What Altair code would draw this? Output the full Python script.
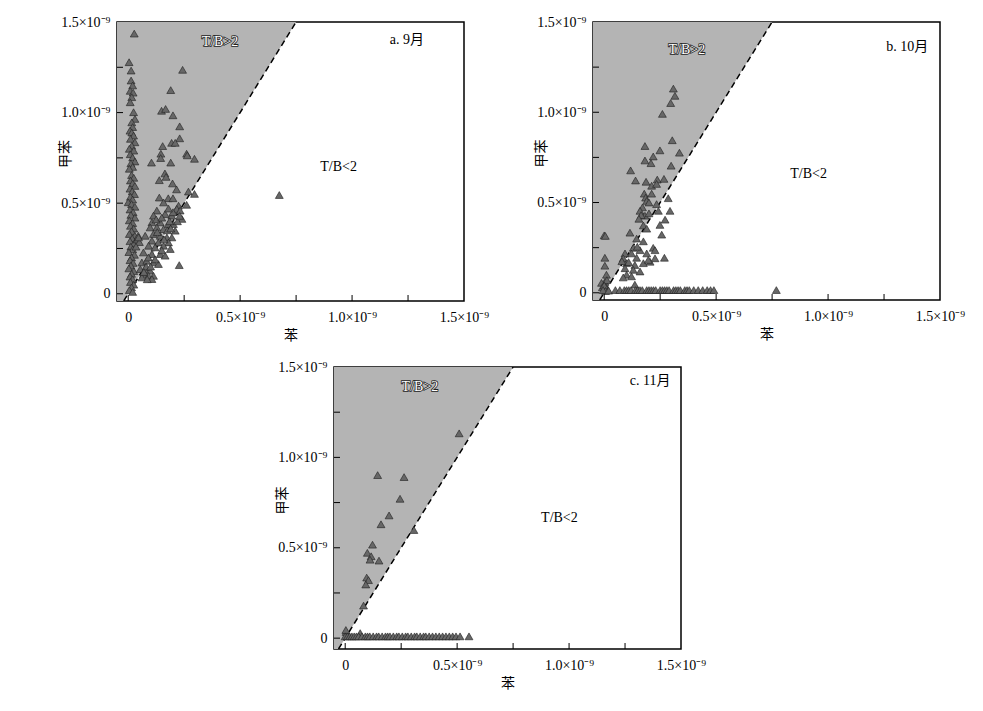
import altair as alt
import pandas as pd

# ---------------- data (units of 1e-9) ----------------
# Panel a (September)
a_x = [0.004, 0.013, 0.013, 0.020, 0.009, 0.022, 0.016, 0.009, 0.024, 0.030, 0.016, 0.020, 0.008, 0.016, 0.024,
       0.010, 0.030, 0.016, 0.005, 0.025, 0.009, 0.020, 0.030, 0.012, 0.020, 0.005, 0.015, 0.025, 0.010, 0.020,
       0.030, 0.008, 0.018, 0.028, 0.010, 0.020, 0.000, 0.015, 0.030, 0.008, 0.022, 0.012, 0.030, 0.005, 0.020,
       0.010, 0.025, 0.015, 0.005, 0.030, 0.018, 0.008, 0.025, 0.012, 0.020, 0.003, 0.028, 0.015, 0.008, 0.022,
       0.012, 0.003, 0.025, 0.015, 0.008, 0.020, 0.010, 0.025, 0.015, 0.005, 0.020,
       0.040, 0.050, 0.045, 0.035, 0.046,
       0.027, 0.243, 0.190, 0.149, 0.167, 0.200, 0.230, 0.230, 0.194, 0.210, 0.154, 0.146, 0.145, 0.261, 0.264,
       0.296, 0.104, 0.190, 0.164, 0.169, 0.139, 0.198, 0.216, 0.269, 0.296, 0.139, 0.179, 0.200, 0.261, 0.675,
       0.158, 0.225, 0.217, 0.128, 0.232, 0.113, 0.165, 0.195, 0.240, 0.106, 0.143, 0.180, 0.202, 0.098, 0.128,
       0.158, 0.210, 0.076, 0.113, 0.143, 0.173, 0.195, 0.106, 0.135, 0.180, 0.091, 0.120, 0.158, 0.188, 0.068,
       0.106, 0.143, 0.165, 0.061, 0.083, 0.113, 0.135, 0.228, 0.054, 0.076, 0.098, 0.068, 0.091, 0.113, 0.061,
       0.106,
       0.125, 0.150, 0.175, 0.190, 0.160, 0.090, 0.120, 0.080, 0.100, 0.070, 0.085, 0.150, 0.130, 0.220, 0.200,
       0.180, 0.230, 0.185]
a_y = [1.278, 1.232, 1.177, 1.150, 1.120, 1.110, 1.085, 1.057, 1.002, 0.965, 0.946, 0.920, 0.900, 0.890, 0.873,
       0.855, 0.836, 0.817, 0.800, 0.790, 0.770, 0.752, 0.730, 0.720, 0.700, 0.690, 0.655, 0.640, 0.625, 0.610,
       0.595, 0.580, 0.565, 0.550, 0.535, 0.520, 0.505, 0.495, 0.480, 0.465, 0.450, 0.435, 0.420, 0.405, 0.390,
       0.375, 0.360, 0.345, 0.330, 0.320, 0.305, 0.290, 0.275, 0.260, 0.245, 0.230, 0.215, 0.200, 0.185, 0.170,
       0.155, 0.140, 0.125, 0.110, 0.095, 0.080, 0.065, 0.050, 0.035, 0.020, 0.010,
       0.300, 0.285, 0.320, 0.260, 0.311,
       1.436, 1.236, 1.124, 1.010, 1.020, 0.985, 0.924, 0.858, 0.833, 0.833, 0.815, 0.773, 0.749, 0.773, 0.764,
       0.745, 0.724, 0.724, 0.664, 0.645, 0.627, 0.609, 0.576, 0.564, 0.551, 0.531, 0.527, 0.527, 0.491, 0.545,
       0.504, 0.486, 0.468, 0.459, 0.459, 0.431, 0.440, 0.431, 0.413, 0.394, 0.394, 0.385, 0.385, 0.366, 0.366,
       0.357, 0.348, 0.320, 0.330, 0.320, 0.311, 0.311, 0.293, 0.283, 0.283, 0.265, 0.256, 0.265, 0.247, 0.228,
       0.219, 0.219, 0.210, 0.173, 0.182, 0.173, 0.164, 0.158, 0.136, 0.136, 0.127, 0.109, 0.099, 0.099, 0.090,
       0.081,
       0.410, 0.420, 0.350, 0.360, 0.300, 0.200, 0.190, 0.150, 0.150, 0.120, 0.080, 0.240, 0.340, 0.400, 0.450,
       0.470, 0.430, 0.400]

# Panel b (October)
b_x = [0.309, 0.316, 0.297, 0.260, 0.304, 0.182, 0.249, 0.336, 0.219, 0.182, 0.209, 0.299, 0.118, 0.140, 0.187,
       0.237, 0.267, 0.212, 0.234, 0.179, 0.212, 0.185, 0.286,
       0.190, 0.234, 0.171, 0.294, 0.160, 0.242, 0.182, 0.272, 0.249, 0.175, 0.190, 0.115, 0.257, 0.000, 0.145,
       0.175, 0.130, 0.219, 0.160, 0.093, 0.122, 0.190, 0.227, 0.003, 0.085, 0.145, 0.227, 0.269, 0.100, 0.137,
       0.175, 0.205, 0.003, 0.093, 0.130, 0.160, 0.100, 0.010, 0.085, 0.122, 0.003, -0.012, -0.008, 0.010,
       0.005, 0.012, 0.000, 0.006, -0.005, 0.020, 0.137,
       0.148, 0.197, 0.109, 0.079, 0.200, 0.165, 0.155, 0.200,
       0.050, 0.070, 0.090, 0.100, 0.110, 0.120, 0.140, 0.150, 0.160, 0.170, 0.190, 0.200, 0.210, 0.220, 0.230,
       0.250, 0.260, 0.270, 0.280, 0.290, 0.310, 0.320, 0.330, 0.340, 0.360, 0.370, 0.380, 0.400, 0.420, 0.440,
       0.460, 0.475, 0.490, 0.769]
b_y = [1.131, 1.091, 1.051, 0.991, 0.845, 0.813, 0.789, 0.776, 0.755, 0.733, 0.718, 0.704, 0.678, 0.622, 0.615,
       0.627, 0.631, 0.593, 0.603, 0.549, 0.549, 0.527, 0.524,
       0.509, 0.491, 0.473, 0.454, 0.454, 0.454, 0.427, 0.405, 0.376, 0.373, 0.355, 0.333, 0.322, 0.318, 0.300,
       0.285, 0.249, 0.249, 0.236, 0.218, 0.218, 0.218, 0.236, 0.194, 0.191, 0.194, 0.191, 0.194, 0.164, 0.154,
       0.164, 0.172, 0.150, 0.136, 0.127, 0.118, 0.100, 0.100, 0.085, 0.091, 0.060, 0.055, 0.031, 0.027,
       0.315, 0.070, 0.040, 0.010, 0.015, 0.012, 0.045,
       0.255, 0.182, 0.170, 0.175, 0.440, 0.430, 0.410, 0.500,
       0.015, 0.015, 0.015, 0.015, 0.015, 0.015, 0.015, 0.015, 0.015, 0.015, 0.015, 0.015, 0.015, 0.015, 0.015,
       0.015, 0.015, 0.015, 0.015, 0.015, 0.015, 0.015, 0.015, 0.015, 0.015, 0.015, 0.015, 0.015, 0.015, 0.015,
       0.015, 0.015, 0.015, 0.015]

# Panel c (November)
c_x = [0.509, 0.145, 0.263, 0.245, 0.196, 0.160, 0.307, 0.122, 0.099, 0.116, 0.111, 0.151, 0.096, 0.104, 0.092,
       0.082, 0.004, 0.067, 0.003,
       0.000, 0.010, 0.020, 0.030, 0.040, 0.050, 0.060, 0.075, 0.090, 0.100, 0.110, 0.125, 0.140, 0.150, 0.165,
       0.180, 0.190, 0.200, 0.215, 0.230, 0.240, 0.255, 0.270, 0.280, 0.295, 0.310, 0.320, 0.335, 0.350, 0.360,
       0.375, 0.390, 0.405, 0.420, 0.435, 0.450, 0.465, 0.480, 0.495, 0.513, 0.553]
c_y = [1.133, 0.902, 0.891, 0.771, 0.679, 0.630, 0.598, 0.517, 0.472, 0.453, 0.434, 0.429, 0.335, 0.321, 0.297,
       0.180, 0.034, 0.028, 0.045,
       0.010, 0.010, 0.010, 0.010, 0.010, 0.010, 0.010, 0.010, 0.010, 0.010, 0.010, 0.010, 0.010, 0.010, 0.010,
       0.010, 0.010, 0.010, 0.010, 0.010, 0.010, 0.010, 0.010, 0.010, 0.010, 0.010, 0.010, 0.010, 0.010, 0.010,
       0.010, 0.010, 0.010, 0.010, 0.010, 0.010, 0.010, 0.010, 0.010, 0.010, 0.010]

axis_labels = [0, 0.5, 1.0, 1.5]
tick_vals = [0, 0.25, 0.5, 0.75, 1.0, 1.25]
ratio = 2.0          # T/B = 2 boundary
axis_max = 1.5
x_min = -0.05

SERIF = "Liberation Serif"
MIXED = "Liberation Serif, Noto Sans CJK SC"
CJK = "Noto Sans CJK SC"
FMT = "datum.value == 0 ? '0' : format(datum.value, '.1f') + '×10⁻⁹'"

W = 347


def panel(xs, ys, y_min, H, tag, gt_pos, lt_pos, tag_pos):
    xsc = alt.Scale(domain=[x_min, axis_max], nice=False, zero=False)
    ysc = alt.Scale(domain=[y_min, axis_max], nice=False, zero=False)
    xax = alt.Axis(values=axis_labels, labelExpr=FMT, title="苯", grid=False, ticks=False, domain=False,
                   labelFont=SERIF, labelFontSize=14, labelColor="black", labelPadding=9,
                   labelFlush=False, labelOverlap=False, titleFont=CJK, titleFontSize=14,
                   titleFontWeight="normal", titleColor="black", titlePadding=4)
    yax = alt.Axis(values=axis_labels, labelExpr=FMT, title="甲苯", grid=False, ticks=False, domain=False,
                   labelFont=SERIF, labelFontSize=14, labelColor="black", labelPadding=7,
                   labelFlush=False, labelOverlap=False, titleFont=CJK, titleFontSize=14,
                   titleFontWeight="normal", titleColor="black", titleX=-45, titleY=H / 2 - 8)

    x_lo = y_min / ratio
    x_top = axis_max / ratio
    region = pd.DataFrame({"x": [x_min, x_lo, x_top], "lo": [y_min, y_min, axis_max],
                           "hi": [axis_max, axis_max, axis_max]})
    line = pd.DataFrame({"x": [x_lo, x_top], "y": [y_min, axis_max]})
    pts = pd.DataFrame({"苯": xs, "甲苯": ys})
    ticks = pd.DataFrame({"t": tick_vals})

    area = alt.Chart(region).mark_area(color="#b4b4b4", clip=True).encode(
        x=alt.X("x:Q", scale=xsc, axis=xax),
        y=alt.Y("lo:Q", scale=ysc, axis=yax),
        y2="hi:Q")
    dash = alt.Chart(line).mark_line(color="black", strokeDash=[6, 4], strokeWidth=1.5, clip=True).encode(
        x=alt.X("x:Q", scale=xsc, axis=xax),
        y=alt.Y("y:Q", scale=ysc, axis=yax))
    points = alt.Chart(pts).mark_point(shape="triangle-up", filled=True, size=62, fill="#676767",
                                       stroke="#1e1e1e", strokeWidth=0.6, opacity=1, clip=True).encode(
        x=alt.X("苯:Q", scale=xsc, axis=xax),
        y=alt.Y("甲苯:Q", scale=ysc, axis=yax))
    xticks = alt.Chart(ticks).mark_rule(color="black", strokeWidth=1).encode(
        x=alt.X("t:Q", scale=xsc, axis=xax), y=alt.value(H), y2=alt.value(H - 6))
    yticks = alt.Chart(ticks).mark_rule(color="black", strokeWidth=1).encode(
        y=alt.Y("t:Q", scale=ysc, axis=yax), x=alt.value(0), x2=alt.value(6))

    def txt(s, pos, fill, font, size=14):
        return alt.Chart(pd.DataFrame({"d": [0]})).mark_text(
            font=font, fontSize=size, fill=fill, align="center", baseline="middle").encode(
            x=alt.datum(pos[0], scale=xsc), y=alt.datum(pos[1], scale=ysc), text=alt.value(s))

    gt_halo = alt.Chart(pd.DataFrame({"d": [0]})).mark_text(
        font=SERIF, fontSize=14, fill="white", stroke="#222", strokeWidth=1.6, align="center",
        baseline="middle").encode(x=alt.datum(gt_pos[0], scale=xsc), y=alt.datum(gt_pos[1], scale=ysc),
                                  text=alt.value("T/B>2"))
    gt = txt("T/B>2", gt_pos, "white", SERIF)
    lt = txt("T/B<2", lt_pos, "black", SERIF)
    tg = txt(tag, tag_pos, "black", MIXED)

    return alt.layer(area, dash, points, xticks, yticks, gt_halo, gt, lt, tg).properties(width=W, height=H)


pa = panel(a_x, a_y, -0.04, 279, "a. 9月", (0.41, 1.39), (0.94, 0.70), (1.245, 1.40))
pb = panel(b_x, b_y, -0.04, 278, "b. 10月", (0.369, 1.345), (0.913, 0.658), (1.354, 1.364))
pc = panel(c_x, c_y, -0.06, 282, "c. 11月", (0.334, 1.387), (0.957, 0.664), (1.362, 1.425))

spacer = alt.Chart(pd.DataFrame({"v": [0]})).mark_point(opacity=0).encode(
    x=alt.X("v:Q", axis=None), y=alt.Y("v:Q", axis=None)).properties(
    width=1, height=1, view=alt.ViewBackground(stroke="transparent"))

top = alt.hconcat(pa, pb, spacing=129, bounds="flush")
bottom = alt.hconcat(spacer, pc, spacing=216, bounds="flush")
chart = alt.vconcat(top, bottom, spacing=16).properties(
    padding={"left": 49, "top": 6, "right": 5, "bottom": 5}
).configure(background="white").configure_view(stroke="black", strokeWidth=1.5)

chart.save("out.html", embed_options={"renderer": "svg", "actions": False})
